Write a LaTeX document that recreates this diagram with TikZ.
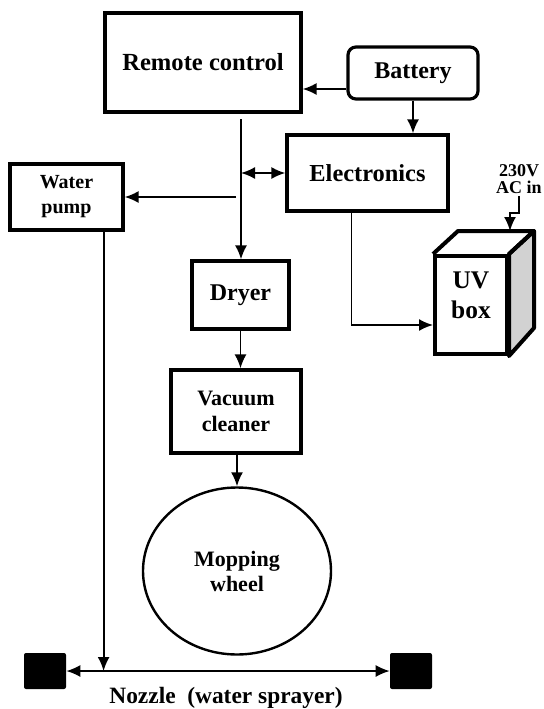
\documentclass[tikz,border=0pt]{standalone}
\usepackage{fontspec}
\setmainfont{Liberation Serif}
\usetikzlibrary{shapes, arrows.meta}

\begin{document}
\begin{tikzpicture}[x=0.5pt, y=-0.5pt, font=\bfseries,
  blk/.style={draw, line width=1.6pt, align=center, inner sep=0},
  arr/.style={-{Latex[length=7pt,width=6pt]}, line width=0.9pt},
  darr/.style={{Latex[length=7pt,width=6pt]}-{Latex[length=7pt,width=6pt]}, line width=0.9pt}]
\useasboundingbox (0,0) rectangle (544,709);
\node[blk, minimum width=98pt, minimum height=49.5pt, font=\bfseries\fontsize{12.3}{14}\selectfont] (rc) at (203,62.5) {Remote control};
\node[blk, rounded corners=4pt, minimum width=65pt, minimum height=26pt, font=\bfseries\fontsize{12}{14}\selectfont] (bat) at (413,73) {Battery};
\node[blk, minimum width=80.5pt, minimum height=38pt, font=\bfseries\fontsize{12.2}{14}\selectfont] (el) at (367.5,173) {Electronics};
\node[blk, minimum width=56.5pt, minimum height=33pt, font=\bfseries\fontsize{10}{12.5}\selectfont] (wp) at (66.5,197) {Water\\pump};
\node[blk, minimum width=48.5pt, minimum height=34pt, font=\bfseries\fontsize{12}{14}\selectfont] (dry) at (240.5,295) {Dryer};
\node[blk, minimum width=65pt, minimum height=41.5pt, font=\bfseries\fontsize{11}{13}\selectfont] (vac) at (236,411.5) {Vacuum\\cleaner};
\node[draw, ellipse, line width=1.2pt, minimum width=94pt, minimum height=83.5pt, inner sep=0, align=center, font=\bfseries\fontsize{11}{12.5}\selectfont] (mop) at (237,571) {Mopping\\wheel};
% UV box
\node[blk, line width=2pt, minimum width=36pt, minimum height=49pt] (uv) at (471,305) {};
\filldraw[fill=gray!35, line width=2pt, line join=round] (uv.north east) -- ++(25,-23) -- ++(0,97) -- (uv.south east) -- cycle;
\draw[line width=2pt, line join=round] (uv.north west) -- ++(25,-23) -- ([shift={(25,-23)}]uv.north east) -- (uv.north east);
\node[align=center, font=\bfseries\fontsize{12.7}{15}\selectfont] (uvt) at (471,295) {UV\\box};
\node[align=center, inner sep=0, font=\bfseries\fontsize{9}{8.5}\selectfont] (ac) at (519,179) {230V\\AC in};
\coordinate (uvtop) at ([shift={(1,-23)}]uv.north east);
% Nozzles
\node[fill, rounded corners=1pt, minimum width=21pt, minimum height=18pt, inner sep=0] (nzl) at (45,671) {};
\node[fill, rounded corners=1pt, minimum width=21pt, minimum height=18pt, inner sep=0] (nzr) at (411,671) {};
\node[font=\bfseries\fontsize{11.7}{14}\selectfont] (nzt) at (226,698) {Nozzle\ \ (water sprayer)};
% Arrows
\coordinate (b1) at ([yshift=-8pt]bat.west);
\draw[arr] (b1) -- (b1 -| rc.east);
\draw[arr] (bat.south) -- (bat.south |- el.north);
\coordinate (bus) at (241,119);
\draw[arr] (bus) -- (bus |- dry.north);
\draw[darr] (bus |- el.west) -- (el.west);
\draw[arr] ([xshift=-2.5pt]bus |- wp.east) -- (wp.east);
\draw[arr] (dry.south) -- (dry.south |- vac.north);
\draw[arr] (vac.south -| mop.north) -- (mop.north);
\draw[arr] ([xshift=-8pt]el.south) |- ([yshift=-10pt]uv.west);
\draw[arr] ([yshift=-1pt]ac.south) -- ++(0,17) -| (uvtop);
% Water line
\coordinate (wpd) at ([xshift=-10.5pt]wp.south east);
\draw[arr] (wpd) -- (wpd |- nzl.east);
\draw[darr, line width=0.7pt] (nzl.east) -- (nzr.west);
\end{tikzpicture}
\end{document}
